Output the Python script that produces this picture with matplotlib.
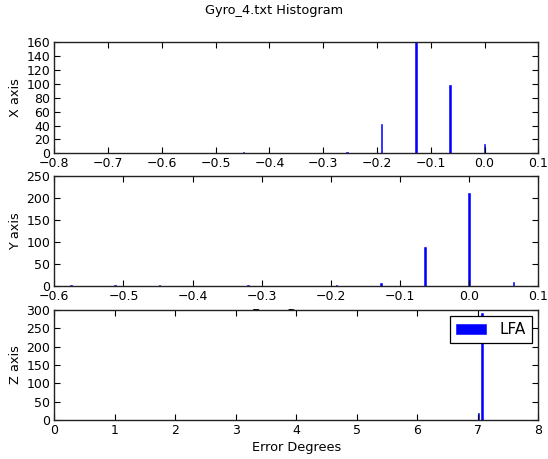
import matplotlib
matplotlib.use("Agg")
import matplotlib.pyplot as plt

# Histogram bin centres (degrees) and counts for each gyro axis
x_bins = [-0.704, -0.576, -0.448, -0.256, -0.192, -0.128, -0.064, 0.0]
x_counts = [1, 1, 2, 2, 42, 160, 99, 13]

y_bins = [-0.576, -0.512, -0.448, -0.320, -0.192, -0.128, -0.064, 0.0, 0.064]
y_counts = [1, 1, 1, 1, 1, 7, 88, 210, 8]

z_bins = [7.01, 7.07]
z_counts = [20, 293]

title = "Gyro_4.txt Histogram"
series_label = "LFA"
x_label = "Error Degrees"

plt.rcParams["font.family"] = "DejaVu Sans"
plt.rcParams["axes.linewidth"] = 1.0

TICK_FS = 9.0
LABEL_FS = 9.3

fig = plt.figure(figsize=(5.48, 4.59), dpi=100)
fig.patch.set_facecolor("white")

W, H = 548.0, 459.0
left, right = 54.3 / W, 538.4 / W
rows = [(42.3, 153.3), (175.6, 285.7), (310.0, 420.0)]


def make_axes(top_px, bottom_px):
    return fig.add_axes([left, 1 - bottom_px / H, right - left,
                         (bottom_px - top_px) / H])


panels = [
    (x_bins, x_counts, 0.0030, (-0.8, 0.1), [i / 10 for i in range(-8, 2)],
     (0, 160), list(range(0, 161, 20)), "X axis"),
    (y_bins, y_counts, 0.0024, (-0.6, 0.1), [i / 10 for i in range(-6, 2)],
     (0, 250), list(range(0, 251, 50)), "Y axis"),
    (z_bins, z_counts, 0.026, (0, 8), list(range(0, 9)),
     (0, 300), list(range(0, 301, 50)), "Z axis"),
]

axes = []
for i, ((top_px, bottom_px), (bins, counts, width, xlim, xticks, ylim, yticks, ylab)) in enumerate(zip(rows, panels)):
    ax = make_axes(top_px, bottom_px)
    ax.bar(bins, counts, width=width, color="#0000ff", edgecolor="#0000ff",
           linewidth=0.4, align="center", label=series_label)
    ax.set_xlim(*xlim)
    ax.set_ylim(*ylim)
    ax.set_xticks(xticks)
    ax.set_yticks(yticks)
    ax.set_xticklabels([f"{t:.1f}".replace("-", "\u2212") if isinstance(t, float) else str(t)
                        for t in xticks])
    ax.tick_params(direction="in", top=True, right=True, length=4.2,
                   width=0.8, pad=3, labelsize=TICK_FS)
    ax.set_ylabel(ylab, fontsize=LABEL_FS, labelpad=3)
    # the upper panels' x labels sit mostly beneath the next panel
    ax.set_xlabel(x_label, fontsize=LABEL_FS, labelpad=4.0 if i < 2 else 3)
    for s in ax.spines.values():
        s.set_color("#222222")
    axes.append(ax)

leg = axes[2].legend(loc="upper right", fontsize=11, fancybox=False,
                     framealpha=1, edgecolor="black", handlelength=2.0,
                     handleheight=0.7, handletextpad=0.9, borderpad=0.4,
                     borderaxespad=0.4)
leg.get_frame().set_linewidth(0.9)

fig.text(0.5, 1 - 10.5 / H, title, ha="center", va="center", fontsize=LABEL_FS)

fig.savefig("out.png", dpi=100, facecolor="white")
